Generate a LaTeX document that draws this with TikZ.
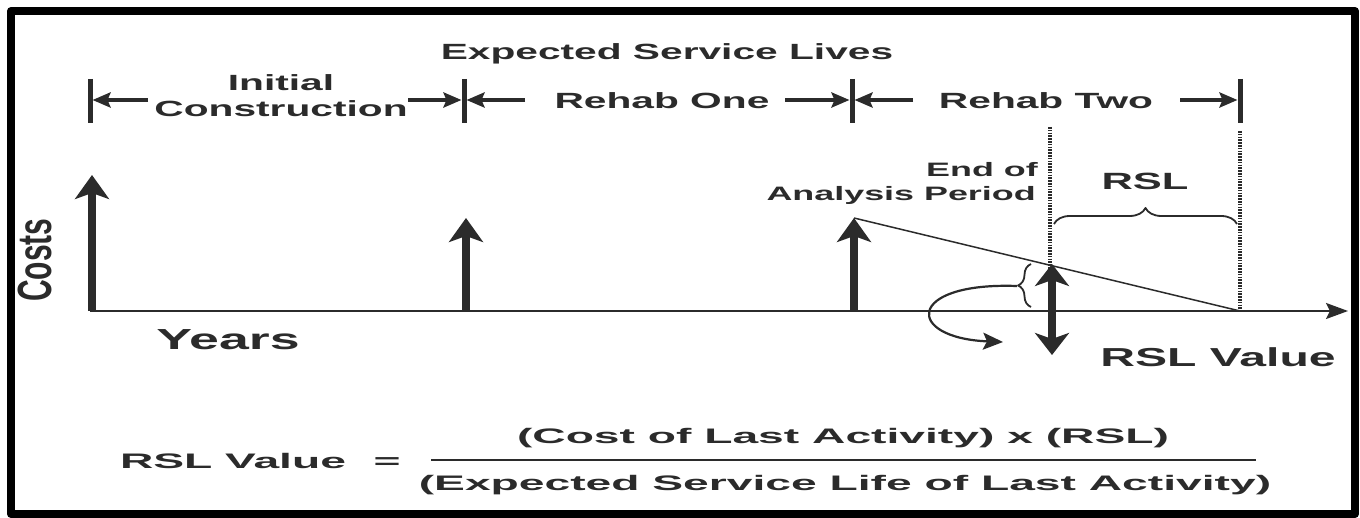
\documentclass[tikz,border=0pt]{standalone}
\usepackage{fontspec}
\usetikzlibrary{arrows.meta,decorations.pathreplacing}
% wide bold sans for the labels, wider still for the formula
\newfontfamily\headfont{Liberation Sans}[FakeStretch=1.85]
\newfontfamily\eqfont{Liberation Sans}[FakeStretch=2.2]
\newfontfamily\costfont{Liberation Sans}
\definecolor{ink}{gray}{0.17}
\tikzset{
	lbl/.style={font=\headfont\bfseries\fontsize{22}{24}\selectfont,inner sep=0pt,text=ink},
	eq/.style={font=\eqfont\bfseries\fontsize{21}{23}\selectfont,inner sep=0pt,text=ink},
	tickbar/.style={draw=ink,line width=5pt},
	dimarrow/.style={draw=ink,line width=4pt,-{Stealth[length=18pt,width=15pt,inset=3pt]}},
	cost/.style={draw=ink,line width=8pt,-{Stealth[length=24pt,width=34pt,inset=6pt]}},
	costboth/.style={draw=ink,line width=8pt,{Stealth[length=22pt,width=34pt,inset=6pt]}-{Stealth[length=22pt,width=34pt,inset=6pt]}},
	axisline/.style={draw=ink,line width=2pt,-{Stealth[length=22pt,width=16pt,inset=4pt]}},
	dots/.style={draw=ink,line width=3.2pt,dash pattern=on 1.6pt off 1.2pt},
	bracel/.style={draw=ink,line width=1.8pt,decorate,decoration={brace,amplitude=#1}},
	curl/.style={draw=ink,line width=2.2pt,-{Stealth[length=20pt,width=17pt,inset=4pt]}}
}
\begin{document}
\begin{tikzpicture}[x=1pt,y=-1pt,line join=round]
	\def\ax{311}
	\fill[white] (0,0) rectangle (1360,518);
	\useasboundingbox (0,0) rectangle (1360,518);
	\draw[line width=8pt] (11,11) rectangle (1355,514);
	% service lives along the top
	\node[lbl,anchor=base] (esl) at (667,60) {Expected Service Lives};
	\foreach \x in {90,464,852,1240}
	\draw[tickbar] (\x,79) -- (\x,123);
	\node[lbl,anchor=base] (ini) at (281,91) {Initial};
	\node[lbl,anchor=base] (con) at (281,117) {Construction};
	\node[lbl,anchor=base] (rone) at (662,109) {Rehab One};
	\node[lbl,anchor=base] (rtwo) at (1046,109) {Rehab Two};
	\draw[dimarrow] (148,100) -- (92.5,100);
	\draw[dimarrow] (408,100) -- (461.5,100);
	\draw[dimarrow] (525,100) -- (466.5,100);
	\draw[dimarrow] (785,100) -- (849.5,100);
	\draw[dimarrow] (913,100) -- (854.5,100);
	\draw[dimarrow] (1180,100) -- (1237.5,100);
	% axes
	\coordinate (o) at (90,\ax);
	\coordinate (xend) at (1348,\ax);
	\draw[axisline] (o) -- (xend);
	\node[font=\costfont\bfseries\fontsize{30}{30}\selectfont,text=ink,rotate=90,inner sep=0pt] (costs) at (35,260) {\scalebox{1}[1.6]{Costs}};
	\node[lbl,font=\headfont\bfseries\fontsize{29}{30}\selectfont,anchor=base] (years) at (228,350) {Years};
	% cost of each activity
	\coordinate (c0) at (92,175);
	\coordinate (c1) at (466,218);
	\coordinate (c2) at (854,218);
	\draw[cost] (92,\ax) -- (c0);
	\draw[cost] (466,\ax) -- (c1);
	\draw[cost] (854,\ax) -- (c2);
	% end of analysis period and remaining life
	\coordinate (eap) at (1050,\ax);
	\coordinate (life) at (1240,\ax);
	\draw[dots] (1050,127) -- (eap);
	\draw[dots] (1240,131) -- (life);
	\draw[draw=ink,line width=1.5pt] (c2) -- (life);
	\node[lbl,font=\headfont\bfseries\fontsize{19.4}{21}\selectfont,anchor=base east] (eof) at (1038,177) {End of};
	\node[lbl,font=\headfont\bfseries\fontsize{19.4}{21}\selectfont,anchor=base east] (ap) at (1036,201) {Analysis Period};
	\node[lbl,font=\headfont\bfseries\fontsize{23.5}{25}\selectfont,anchor=base] (rsl) at (1145,190) {RSL};
	\draw[bracel=16pt] (1054,224) -- (1237,224);
	% value left at the end of the period
	\coordinate (vtop) at (1052,264);
	\coordinate (vbot) at (1052,355);
	\draw[costboth] (vtop) -- (vbot);
	\draw[bracel=13pt] (1031,307) -- (1031,264);
	\coordinate (btip) at (1017,286);
	\coordinate (bend) at (1003,342);
	\draw[curl] (btip) .. controls (905,282) and (905,338) .. (bend);
	\node[lbl,font=\headfont\bfseries\fontsize{26}{28}\selectfont,anchor=base] (rslv) at (1218,367) {RSL Value};
	% formula
	\node[eq,anchor=base] (fl) at (233,468) {RSL Value};
	\node[eq,anchor=base] (feq) at (387,468) {=};
	\coordinate (fa) at (431,460);
	\coordinate (fb) at (1256,460);
	\draw[draw=ink,line width=2.5pt] (fa) -- (fb);
	\node[eq,anchor=base] (num) at (843,443) {(Cost of Last Activity) x (RSL)};
	\node[eq,anchor=base] (den) at (845,490) {(Expected Service Life of Last Activity)};
\end{tikzpicture}
\end{document}
